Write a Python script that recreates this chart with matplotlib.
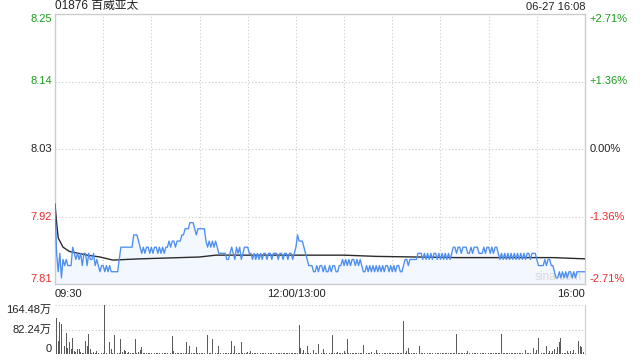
import matplotlib
matplotlib.use('Agg')
import matplotlib.pyplot as plt
import numpy as np

plt.rcParams['font.family'] = ['Liberation Sans', 'Noto Sans CJK SC', 'DejaVu Sans']

# price per minute, in cents (09:30 .. 16:00, lunch break removed)
price_cents = [
    794, 786, 783, 786, 782, 785, 784, 785, 784, 784,
    784, 787, 786, 785, 786, 785, 786, 784, 786, 786,
    784, 786, 785, 785, 786, 784, 785, 784, 783, 784,
    784, 783, 784, 783, 784, 783, 783, 783, 783, 783,
    785, 787, 787, 787, 787, 787, 787, 787, 787, 789,
    789, 789, 788, 787, 786, 787, 786, 787, 787, 786,
    787, 786, 787, 787, 786, 787, 786, 787, 786, 787,
    787, 788, 787, 788, 788, 787, 788, 788, 788, 789,
    789, 790, 790, 790, 791, 791, 791, 790, 789, 790,
    790, 790, 790, 790, 788, 787, 788, 787, 788, 787,
    788, 787, 786, 786, 786, 786, 786, 785, 785, 786,
    787, 786, 785, 787, 786, 787, 785, 786, 787, 787,
    787, 786, 786, 785, 786, 785, 786, 785, 786, 785,
    786, 786, 785, 786, 786, 785, 786, 786, 786, 785,
    786, 786, 785, 786, 786, 785, 786, 786, 785, 786,
    787, 789, 788, 788, 788, 787, 786, 785, 784, 784,
    784, 783, 783, 784, 783, 784, 784, 783, 784, 783,
    783, 784, 783, 784, 784, 783, 783, 784, 784, 785,
    784, 785, 784, 785, 784, 785, 785, 784, 785, 784,
    785, 784, 783, 783, 784, 783, 784, 783, 784, 783,
    784, 783, 784, 783, 784, 783, 784, 784, 783, 784,
    783, 784, 783, 784, 784, 783, 783, 784, 785, 785,
    784, 785, 785, 785, 785, 785, 786, 786, 786, 785,
    786, 785, 786, 785, 786, 785, 786, 786, 785, 786,
    785, 786, 785, 786, 785, 786, 785, 786, 787, 787,
    786, 787, 787, 786, 787, 787, 787, 786, 786, 787,
    786, 787, 787, 787, 786, 786, 786, 787, 786, 787,
    787, 786, 787, 786, 787, 787, 786, 785, 786, 785,
    786, 785, 786, 785, 786, 785, 786, 785, 786, 785,
    786, 785, 786, 785, 786, 786, 785, 786, 786, 786,
    785, 784, 784, 784, 784, 785, 784, 785, 785, 784,
    784, 783, 782, 782, 783, 782, 783, 782, 783, 782,
    783, 783, 782, 783, 782, 783, 783, 783, 783, 783,
    783,
]

# average price line (minute index, price)
avg_idx = [0, 1, 2, 3, 5, 9, 20, 28, 36, 53, 90, 100, 180, 200, 250, 310, 330]
avg_val = [7.94, 7.91, 7.885, 7.88, 7.87, 7.863, 7.857, 7.854, 7.849, 7.851,
           7.854, 7.857, 7.857, 7.855, 7.853, 7.853, 7.851]

# volume per minute, in 万 shares
volume = [
    70, 121, 45, 106, 102, 23, 26, 70, 20, 39,
    17, 54, 11, 6, 17, 18, 6, 4, 3, 42,
    28, 68, 17, 5, 8, 4, 10, 3, 26, 4,
    3, 164.48, 5, 3, 39, 18, 4, 65, 10, 4,
    3, 51, 8, 15, 11, 3, 8, 4, 3, 4,
    51, 4, 8, 12, 22, 3, 2, 3, 2, 2,
    3, 2, 3, 2, 2, 3, 2, 2, 3, 2,
    3, 2, 4, 59, 9, 3, 2, 3, 2, 3,
    2, 4, 39, 4, 28, 3, 5, 3, 22, 3,
    2, 3, 2, 4, 31, 63, 4, 3, 51, 3,
    2, 4, 28, 3, 26, 3, 2, 3, 2, 4,
    45, 3, 26, 3, 4, 2, 39, 3, 2, 4,
    6, 2, 11, 3, 2, 3, 2, 4, 3, 2,
    3, 2, 3, 4, 2, 3, 2, 3, 5, 2,
    3, 2, 4, 3, 2, 3, 5, 3, 2, 4,
    3, 5, 98, 19, 4, 12, 3, 26, 4, 3,
    65, 15, 4, 3, 35, 4, 3, 18, 3, 2,
    4, 3, 3, 65, 4, 3, 6, 3, 2, 4,
    11, 3, 51, 4, 3, 2, 3, 5, 4, 3,
    2, 4, 31, 3, 2, 3, 2, 6, 3, 2,
    15, 3, 2, 5, 3, 2, 4, 3, 2, 3,
    2, 3, 4, 2, 3, 2, 3, 110, 3, 11,
    20, 4, 3, 2, 3, 2, 4, 28, 3, 2,
    3, 2, 3, 4, 2, 3, 2, 3, 4, 2,
    3, 2, 3, 5, 2, 3, 2, 3, 2, 4,
    68, 3, 2, 3, 2, 3, 4, 9, 3, 2,
    3, 2, 3, 4, 2, 3, 2, 3, 2, 3,
    2, 3, 4, 2, 3, 2, 3, 2, 68, 3,
    2, 3, 4, 2, 3, 2, 5, 3, 2, 3,
    2, 4, 3, 15, 3, 2, 4, 3, 20, 3,
    15, 54, 4, 3, 5, 3, 28, 4, 11, 3,
    9, 17, 4, 23, 39, 54, 3, 5, 4, 11,
    3, 11, 4, 15, 3, 5, 45, 28, 23, 8,
    121,
]

price_ticks = [8.25, 8.14, 8.03, 7.92, 7.81]
price_labels = ['8.25', '8.14', '8.03', '7.92', '7.81']
pct_labels = ['+2.71%', '+1.36%', '0.00%', '-1.36%', '-2.71%']
time_ticks = [0, 150, 330]
time_labels = ['09:30', '12:00/13:00', '16:00']
vol_ticks = [164.48, 82.24, 0]
vol_labels = ['164.48万', '82.24万', '0']
title = '01876 百威亚太'
stamp = '06-27 16:08'

GREEN = '#1a9f1a'
RED = '#ee2a2a'
BLUE = '#4d8ef0'
GRID = '#cccccc'
label_colors = [GREEN, GREEN, '#222222', RED, RED]

price = np.array(price_cents) / 100.0
x = np.arange(len(price))
vx = np.arange(len(volume))
n_min = len(price) - 1

fig = plt.figure(figsize=(6.4, 3.6), dpi=100)
ax = fig.add_axes([55 / 640, 1 - 284 / 360, 530 / 640, 270 / 360])
axv = fig.add_axes([55 / 640, 1 - 354 / 360, 530 / 640, 49 / 360])

# main price panel
ax.set_xlim(0, n_min)
ax.set_ylim(price_ticks[-1], price_ticks[0])
ax.fill_between(x, price, price_ticks[-1], color='#f3f7fe', lw=0, zorder=1)
ax.plot(avg_idx, avg_val, color='#2b2b2b', lw=1.0, zorder=3)
ax.plot(x, price, color=BLUE, lw=0.95, zorder=4)

for gx in range(30, n_min, 30):
    ax.axvline(gx, color=GRID, lw=0.8, ls=(0, (1, 2)), zorder=0)
for gy in price_ticks[1:-1]:
    ax.axhline(gy, color=GRID, lw=0.8, ls=(0, (1, 2)), zorder=0)

ax.set_xticks([])
ax.set_yticks([])
for s in ax.spines.values():
    s.set_color(GRID)
    s.set_linewidth(1.0)

for i, (v, lab, pl) in enumerate(zip(price_ticks, price_labels, pct_labels)):
    va = 'top' if i == 0 else ('bottom' if i == len(price_ticks) - 1 else 'center')
    ax.text(-0.006, v, lab, transform=ax.get_yaxis_transform(), ha='right', va=va,
            fontsize=8, color=label_colors[i])
    ax.text(1.008, v, pl, transform=ax.get_yaxis_transform(), ha='left', va=va,
            fontsize=8, color=label_colors[i])

for t, lab in zip(time_ticks, time_labels):
    ha = 'left' if t == 0 else ('right' if t == n_min else 'center')
    ax.text(t, -0.018, lab, transform=ax.get_xaxis_transform(), ha=ha, va='top',
            fontsize=8, color='#222222')

ax.text(0, 1.008, title, transform=ax.transAxes, ha='left', va='bottom', fontsize=8.5, color='#222222')
ax.text(1, 1.008, stamp, transform=ax.transAxes, ha='right', va='bottom', fontsize=8, color='#222222')
ax.text(0.995, 0.005, 'sina.com', transform=ax.transAxes, ha='right', va='bottom',
        fontsize=8.5, color='#d8d8d8', zorder=2)

# volume panel
axv.set_xlim(0, n_min)
axv.set_ylim(0, vol_ticks[0])
axv.bar(vx, volume, width=0.55, color='#5a5a5a', align='center')
for gy in vol_ticks[:-1]:
    axv.axhline(gy, color=GRID, lw=0.8, ls=(0, (1, 2)), zorder=0)
axv.set_xticks([])
axv.set_yticks([])
for k, s in axv.spines.items():
    s.set_visible(k == 'right')
    s.set_color(GRID)
for i, (v, lab) in enumerate(zip(vol_ticks, vol_labels)):
    va = 'top' if i == 0 else ('bottom' if i == len(vol_ticks) - 1 else 'center')
    axv.text(-0.007, v, lab, transform=axv.get_yaxis_transform(), ha='right', va=va,
             fontsize=8, color='#222222')

fig.savefig('out.png', dpi=100)
